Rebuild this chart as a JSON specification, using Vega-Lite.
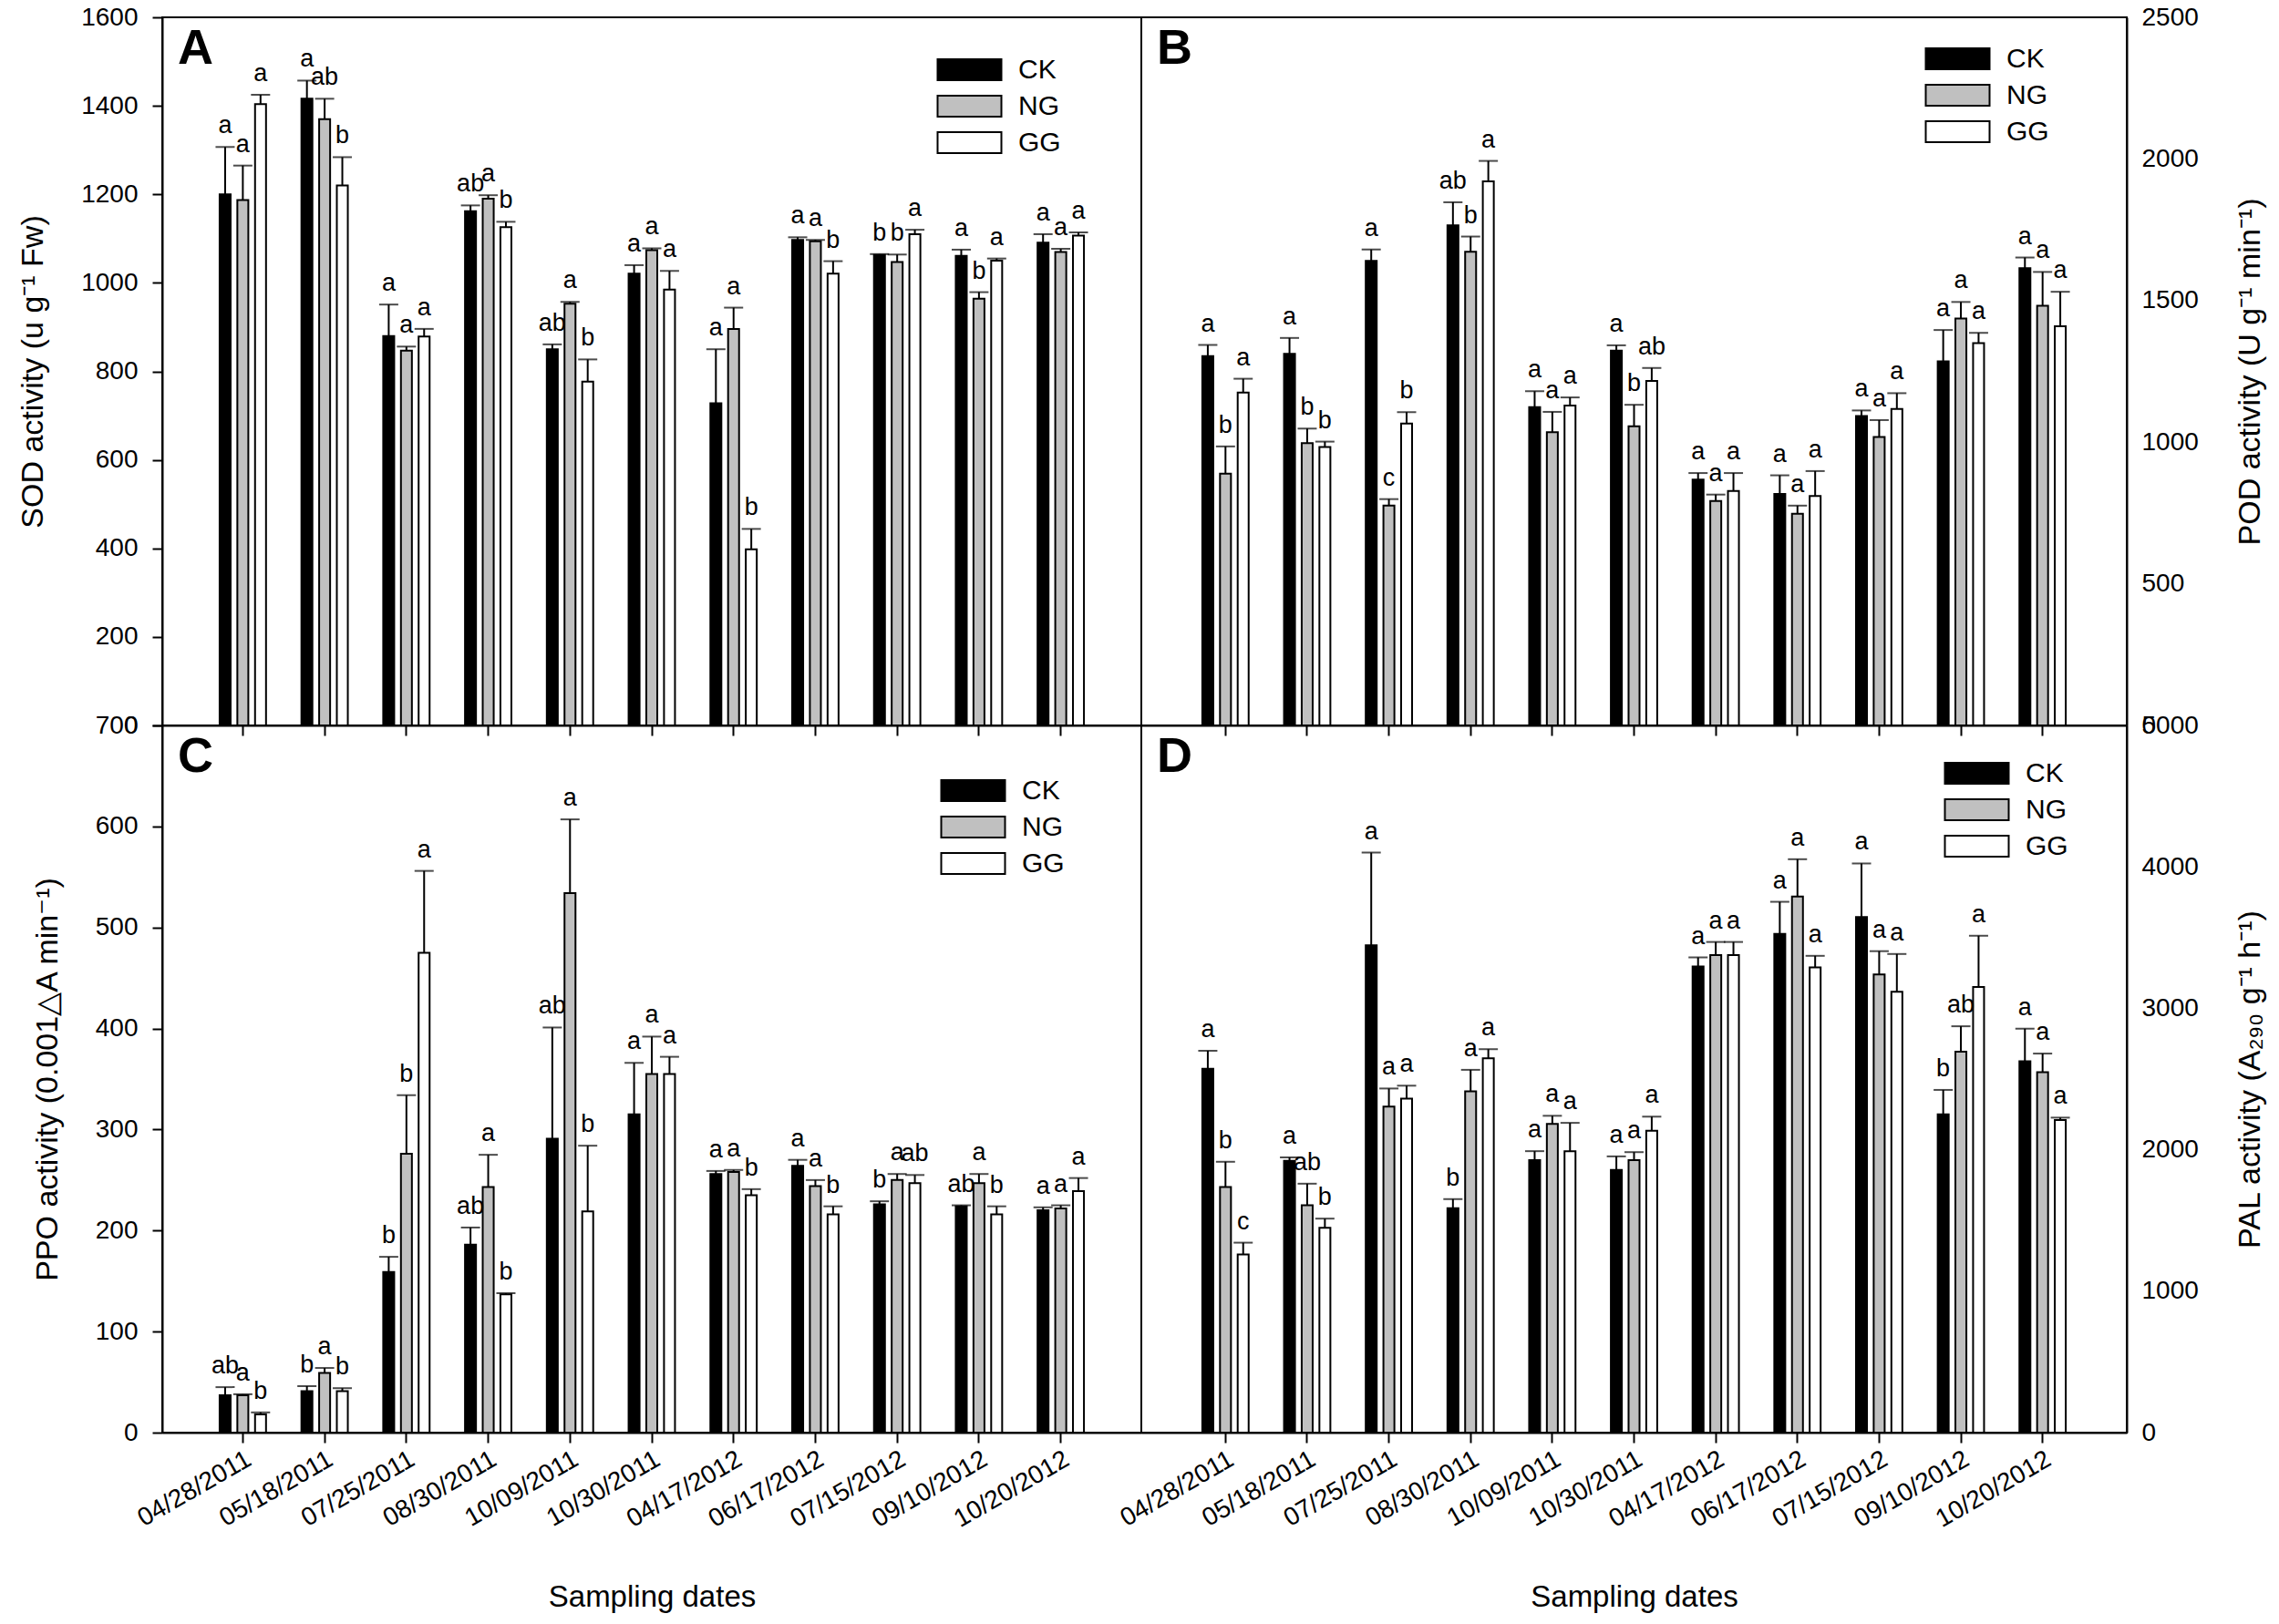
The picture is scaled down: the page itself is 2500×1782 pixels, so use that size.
{
"$schema": "https://vega.github.io/schema/vega-lite/v6.json",
"background": "white",
"padding": {"left": 18, "top": 4, "right": 5, "bottom": 5},
"config": {
  "font": "Liberation Sans",
  "view": {"stroke": "black", "strokeWidth": 2},
  "axis": {"domainColor": "black", "domainWidth": 2, "tickColor": "black", "tickWidth": 2, "tickSize": 11, "labelFontSize": 28, "labelColor": "black", "titleFontSize": 34, "titleFontWeight": "normal", "titleColor": "black", "grid": false, "labelPadding": 4},
  "axisY": {"format": "d", "labelPadding": 16},
  "legend": {"orient": "none", "title": null, "symbolType": "M-2,-0.66H2V0.66H-2Z", "symbolSize": 1225, "symbolStrokeColor": "black", "symbolStrokeWidth": 2, "labelFontSize": 30, "labelOffset": 35, "rowPadding": 5, "labelColor": "black"},
  "title": {"anchor": "start", "frame": "group", "fontSize": 54, "fontWeight": "bold", "color": "black", "offset": -76, "dx": 17}
},
"data": {"values": [
{"p":"A","d":"04/28/2011","g":"CK","v":1200,"e":1307,"l":"a"},{"p":"A","d":"04/28/2011","g":"NG","v":1187,"e":1265,"l":"a"},{"p":"A","d":"04/28/2011","g":"GG","v":1404,"e":1425,"l":"a"},
{"p":"A","d":"05/18/2011","g":"CK","v":1416,"e":1457,"l":"a"},{"p":"A","d":"05/18/2011","g":"NG","v":1370,"e":1416,"l":"ab"},{"p":"A","d":"05/18/2011","g":"GG","v":1220,"e":1284,"l":"b"},
{"p":"A","d":"07/25/2011","g":"CK","v":880,"e":951,"l":"a"},{"p":"A","d":"07/25/2011","g":"NG","v":847,"e":856,"l":"a"},{"p":"A","d":"07/25/2011","g":"GG","v":879,"e":896,"l":"a"},
{"p":"A","d":"08/30/2011","g":"CK","v":1162,"e":1175,"l":"ab"},{"p":"A","d":"08/30/2011","g":"NG","v":1190,"e":1198,"l":"a"},{"p":"A","d":"08/30/2011","g":"GG","v":1126,"e":1138,"l":"b"},
{"p":"A","d":"10/09/2011","g":"CK","v":850,"e":861,"l":"ab"},{"p":"A","d":"10/09/2011","g":"NG","v":953,"e":957,"l":"a"},{"p":"A","d":"10/09/2011","g":"GG","v":777,"e":827,"l":"b"},
{"p":"A","d":"10/30/2011","g":"CK","v":1021,"e":1040,"l":"a"},{"p":"A","d":"10/30/2011","g":"NG","v":1074,"e":1078,"l":"a"},{"p":"A","d":"10/30/2011","g":"GG","v":985,"e":1027,"l":"a"},
{"p":"A","d":"04/17/2012","g":"CK","v":728,"e":850,"l":"a"},{"p":"A","d":"04/17/2012","g":"NG","v":896,"e":944,"l":"a"},{"p":"A","d":"04/17/2012","g":"GG","v":398,"e":444,"l":"b"},
{"p":"A","d":"06/17/2012","g":"CK","v":1097,"e":1103,"l":"a"},{"p":"A","d":"06/17/2012","g":"NG","v":1094,"e":1097,"l":"a"},{"p":"A","d":"06/17/2012","g":"GG","v":1021,"e":1049,"l":"b"},
{"p":"A","d":"07/15/2012","g":"CK","v":1063,"e":1065,"l":"b"},{"p":"A","d":"07/15/2012","g":"NG","v":1047,"e":1064,"l":"b"},{"p":"A","d":"07/15/2012","g":"GG","v":1110,"e":1120,"l":"a"},
{"p":"A","d":"09/10/2012","g":"CK","v":1061,"e":1075,"l":"a"},{"p":"A","d":"09/10/2012","g":"NG","v":964,"e":979,"l":"b"},{"p":"A","d":"09/10/2012","g":"GG","v":1050,"e":1055,"l":"a"},
{"p":"A","d":"10/20/2012","g":"CK","v":1091,"e":1110,"l":"a"},{"p":"A","d":"10/20/2012","g":"NG","v":1070,"e":1077,"l":"a"},{"p":"A","d":"10/20/2012","g":"GG","v":1107,"e":1114,"l":"a"},
{"p":"B","d":"04/28/2011","g":"CK","v":1304,"e":1343,"l":"a"},{"p":"B","d":"04/28/2011","g":"NG","v":889,"e":985,"l":"b"},{"p":"B","d":"04/28/2011","g":"GG","v":1175,"e":1224,"l":"a"},
{"p":"B","d":"05/18/2011","g":"CK","v":1312,"e":1368,"l":"a"},{"p":"B","d":"05/18/2011","g":"NG","v":997,"e":1048,"l":"b"},{"p":"B","d":"05/18/2011","g":"GG","v":983,"e":1002,"l":"b"},
{"p":"B","d":"07/25/2011","g":"CK","v":1640,"e":1680,"l":"a"},{"p":"B","d":"07/25/2011","g":"NG","v":776,"e":799,"l":"c"},{"p":"B","d":"07/25/2011","g":"GG","v":1066,"e":1106,"l":"b"},
{"p":"B","d":"08/30/2011","g":"CK","v":1766,"e":1847,"l":"ab"},{"p":"B","d":"08/30/2011","g":"NG","v":1672,"e":1726,"l":"b"},{"p":"B","d":"08/30/2011","g":"GG","v":1921,"e":1993,"l":"a"},
{"p":"B","d":"10/09/2011","g":"CK","v":1124,"e":1180,"l":"a"},{"p":"B","d":"10/09/2011","g":"NG","v":1035,"e":1107,"l":"a"},{"p":"B","d":"10/09/2011","g":"GG","v":1129,"e":1158,"l":"a"},
{"p":"B","d":"10/30/2011","g":"CK","v":1323,"e":1342,"l":"a"},{"p":"B","d":"10/30/2011","g":"NG","v":1056,"e":1132,"l":"b"},{"p":"B","d":"10/30/2011","g":"GG","v":1216,"e":1262,"l":"ab"},
{"p":"B","d":"04/17/2012","g":"CK","v":868,"e":891,"l":"a"},{"p":"B","d":"04/17/2012","g":"NG","v":792,"e":815,"l":"a"},{"p":"B","d":"04/17/2012","g":"GG","v":828,"e":891,"l":"a"},
{"p":"B","d":"06/17/2012","g":"CK","v":817,"e":883,"l":"a"},{"p":"B","d":"06/17/2012","g":"NG","v":747,"e":776,"l":"a"},{"p":"B","d":"06/17/2012","g":"GG","v":810,"e":898,"l":"a"},
{"p":"B","d":"07/15/2012","g":"CK","v":1092,"e":1112,"l":"a"},{"p":"B","d":"07/15/2012","g":"NG","v":1018,"e":1078,"l":"a"},{"p":"B","d":"07/15/2012","g":"GG","v":1117,"e":1173,"l":"a"},
{"p":"B","d":"09/10/2012","g":"CK","v":1285,"e":1396,"l":"a"},{"p":"B","d":"09/10/2012","g":"NG","v":1437,"e":1495,"l":"a"},{"p":"B","d":"09/10/2012","g":"GG","v":1350,"e":1386,"l":"a"},
{"p":"B","d":"10/20/2012","g":"CK","v":1614,"e":1652,"l":"a"},{"p":"B","d":"10/20/2012","g":"NG","v":1482,"e":1601,"l":"a"},{"p":"B","d":"10/20/2012","g":"GG","v":1409,"e":1531,"l":"a"},
{"p":"C","d":"04/28/2011","g":"CK","v":37,"e":45,"l":"ab"},{"p":"C","d":"04/28/2011","g":"NG","v":37,"e":38,"l":"a"},{"p":"C","d":"04/28/2011","g":"GG","v":18,"e":20,"l":"b"},
{"p":"C","d":"05/18/2011","g":"CK","v":41,"e":46,"l":"b"},{"p":"C","d":"05/18/2011","g":"NG","v":59,"e":64,"l":"a"},{"p":"C","d":"05/18/2011","g":"GG","v":41,"e":44,"l":"b"},
{"p":"C","d":"07/25/2011","g":"CK","v":159,"e":174,"l":"b"},{"p":"C","d":"07/25/2011","g":"NG","v":276,"e":334,"l":"b"},{"p":"C","d":"07/25/2011","g":"GG","v":475,"e":556,"l":"a"},
{"p":"C","d":"08/30/2011","g":"CK","v":186,"e":203,"l":"ab"},{"p":"C","d":"08/30/2011","g":"NG","v":243,"e":275,"l":"a"},{"p":"C","d":"08/30/2011","g":"GG","v":137,"e":138,"l":"b"},
{"p":"C","d":"10/09/2011","g":"CK","v":291,"e":401,"l":"ab"},{"p":"C","d":"10/09/2011","g":"NG","v":534,"e":607,"l":"a"},{"p":"C","d":"10/09/2011","g":"GG","v":219,"e":284,"l":"b"},
{"p":"C","d":"10/30/2011","g":"CK","v":315,"e":366,"l":"a"},{"p":"C","d":"10/30/2011","g":"NG","v":355,"e":392,"l":"a"},{"p":"C","d":"10/30/2011","g":"GG","v":355,"e":372,"l":"a"},
{"p":"C","d":"04/17/2012","g":"CK","v":256,"e":259,"l":"a"},{"p":"C","d":"04/17/2012","g":"NG","v":258,"e":260,"l":"a"},{"p":"C","d":"04/17/2012","g":"GG","v":235,"e":241,"l":"b"},
{"p":"C","d":"06/17/2012","g":"CK","v":264,"e":270,"l":"a"},{"p":"C","d":"06/17/2012","g":"NG","v":244,"e":250,"l":"a"},{"p":"C","d":"06/17/2012","g":"GG","v":216,"e":224,"l":"b"},
{"p":"C","d":"07/15/2012","g":"CK","v":226,"e":229,"l":"b"},{"p":"C","d":"07/15/2012","g":"NG","v":250,"e":256,"l":"a"},{"p":"C","d":"07/15/2012","g":"GG","v":247,"e":255,"l":"ab"},
{"p":"C","d":"09/10/2012","g":"CK","v":224,"e":225,"l":"ab"},{"p":"C","d":"09/10/2012","g":"NG","v":247,"e":256,"l":"a"},{"p":"C","d":"09/10/2012","g":"GG","v":216,"e":224,"l":"b"},
{"p":"C","d":"10/20/2012","g":"CK","v":220,"e":223,"l":"a"},{"p":"C","d":"10/20/2012","g":"NG","v":222,"e":225,"l":"a"},{"p":"C","d":"10/20/2012","g":"GG","v":239,"e":252,"l":"a"},
{"p":"D","d":"04/28/2011","g":"CK","v":2572,"e":2700,"l":"a"},{"p":"D","d":"04/28/2011","g":"NG","v":1736,"e":1915,"l":"b"},{"p":"D","d":"04/28/2011","g":"GG","v":1259,"e":1343,"l":"c"},
{"p":"D","d":"05/18/2011","g":"CK","v":1922,"e":1946,"l":"a"},{"p":"D","d":"05/18/2011","g":"NG","v":1607,"e":1760,"l":"ab"},{"p":"D","d":"05/18/2011","g":"GG","v":1448,"e":1513,"l":"b"},
{"p":"D","d":"07/25/2011","g":"CK","v":3445,"e":4101,"l":"a"},{"p":"D","d":"07/25/2011","g":"NG","v":2305,"e":2433,"l":"a"},{"p":"D","d":"07/25/2011","g":"GG","v":2362,"e":2453,"l":"a"},
{"p":"D","d":"08/30/2011","g":"CK","v":1587,"e":1651,"l":"b"},{"p":"D","d":"08/30/2011","g":"NG","v":2413,"e":2565,"l":"a"},{"p":"D","d":"08/30/2011","g":"GG","v":2646,"e":2711,"l":"a"},
{"p":"D","d":"10/09/2011","g":"CK","v":1926,"e":1990,"l":"a"},{"p":"D","d":"10/09/2011","g":"NG","v":2183,"e":2240,"l":"a"},{"p":"D","d":"10/09/2011","g":"GG","v":1990,"e":2190,"l":"a"},
{"p":"D","d":"10/30/2011","g":"CK","v":1858,"e":1953,"l":"a"},{"p":"D","d":"10/30/2011","g":"NG","v":1926,"e":1983,"l":"a"},{"p":"D","d":"10/30/2011","g":"GG","v":2135,"e":2234,"l":"a"},
{"p":"D","d":"04/17/2012","g":"CK","v":3296,"e":3360,"l":"a"},{"p":"D","d":"04/17/2012","g":"NG","v":3377,"e":3469,"l":"a"},{"p":"D","d":"04/17/2012","g":"GG","v":3377,"e":3469,"l":"a"},
{"p":"D","d":"06/17/2012","g":"CK","v":3526,"e":3753,"l":"a"},{"p":"D","d":"06/17/2012","g":"NG","v":3790,"e":4054,"l":"a"},{"p":"D","d":"06/17/2012","g":"GG","v":3289,"e":3371,"l":"a"},
{"p":"D","d":"07/15/2012","g":"CK","v":3645,"e":4024,"l":"a"},{"p":"D","d":"07/15/2012","g":"NG","v":3239,"e":3404,"l":"a"},{"p":"D","d":"07/15/2012","g":"GG","v":3117,"e":3384,"l":"a"},
{"p":"D","d":"09/10/2012","g":"CK","v":2250,"e":2423,"l":"b"},{"p":"D","d":"09/10/2012","g":"NG","v":2694,"e":2873,"l":"ab"},{"p":"D","d":"09/10/2012","g":"GG","v":3151,"e":3513,"l":"a"},
{"p":"D","d":"10/20/2012","g":"CK","v":2626,"e":2856,"l":"a"},{"p":"D","d":"10/20/2012","g":"NG","v":2548,"e":2680,"l":"a"},{"p":"D","d":"10/20/2012","g":"GG","v":2210,"e":2227,"l":"a"}
]},
"bounds": "flush",
"spacing": 0,
"columns": 2,
"resolve": {"scale": {"fill": "independent", "x": "independent", "y": "independent", "xOffset": "independent"}, "legend": {"fill": "independent"}},
"concat": [
 {"width": 1074, "height": 777, "title": {"text": "A"},
  "transform": [{"filter": "datum.p === 'A'"}],
  "encoding": {
   "x": {"field": "d", "type": "nominal", "scale": {"domain": ["04/28/2011","05/18/2011","07/25/2011","08/30/2011","10/09/2011","10/30/2011","04/17/2012","06/17/2012","07/15/2012","09/10/2012","10/20/2012"], "paddingInner": 0, "paddingOuter": 0.485}, "axis": {"title": null, "labels": false, "ticks": true}},
   "xOffset": {"field": "g", "type": "nominal", "scale": {"domain": ["CK","NG","GG"], "paddingInner": 0.38, "paddingOuter": 1.115}}
  },
  "layer": [
   {"mark": {"type": "bar", "stroke": "black", "strokeWidth": 2},
    "encoding": {"y": {"field": "v", "type": "quantitative", "scale": {"domain": [0, 1600], "nice": false}, "axis": {"title": "SOD activity (u g⁻¹ Fw)", "values": [0,200,400,600,800,1000,1200,1400,1600], "titlePadding": 35}},
     "fill": {"field": "g", "type": "nominal", "scale": {"domain": ["CK","NG","GG"], "range": ["#000000","#c0c0c0","#ffffff"]}, "legend": {"legendX": 867, "legendY": 39}}}},
   {"mark": {"type": "rule", "color": "black", "strokeWidth": 2}, "encoding": {"y": {"field": "v", "type": "quantitative"}, "y2": {"field": "e"}}},
   {"mark": {"type": "tick", "color": "black", "thickness": 2, "size": 21}, "encoding": {"y": {"field": "e", "type": "quantitative"}}},
   {"mark": {"type": "text", "baseline": "bottom", "dy": -9, "fontSize": 27, "color": "black"}, "encoding": {"y": {"field": "e", "type": "quantitative"}, "text": {"field": "l"}}}
  ]},
 {"width": 1081, "height": 777, "title": {"text": "B"},
  "transform": [{"filter": "datum.p === 'B'"}],
  "encoding": {
   "x": {"field": "d", "type": "nominal", "scale": {"domain": ["04/28/2011","05/18/2011","07/25/2011","08/30/2011","10/09/2011","10/30/2011","04/17/2012","06/17/2012","07/15/2012","09/10/2012","10/20/2012"], "paddingInner": 0, "paddingOuter": 0.53}, "axis": {"title": null, "labels": false, "ticks": true}},
   "xOffset": {"field": "g", "type": "nominal", "scale": {"domain": ["CK","NG","GG"], "paddingInner": 0.38, "paddingOuter": 1.115}}
  },
  "layer": [
   {"mark": {"type": "bar", "stroke": "black", "strokeWidth": 2},
    "encoding": {"y": {"field": "v", "type": "quantitative", "scale": {"domain": [0, 2500], "nice": false}, "axis": {"orient": "right", "ticks": false, "title": "POD activity (U g⁻¹ min⁻¹)", "values": [0,500,1000,1500,2000,2500], "titleAngle": 270, "titleBaseline": "top", "titlePadding": 40}},
     "fill": {"field": "g", "type": "nominal", "scale": {"domain": ["CK","NG","GG"], "range": ["#000000","#c0c0c0","#ffffff"]}, "legend": {"legendX": 877, "legendY": 27}}}},
   {"mark": {"type": "rule", "color": "black", "strokeWidth": 2}, "encoding": {"y": {"field": "v", "type": "quantitative"}, "y2": {"field": "e"}}},
   {"mark": {"type": "tick", "color": "black", "thickness": 2, "size": 21}, "encoding": {"y": {"field": "e", "type": "quantitative"}}},
   {"mark": {"type": "text", "baseline": "bottom", "dy": -9, "fontSize": 27, "color": "black"}, "encoding": {"y": {"field": "e", "type": "quantitative"}, "text": {"field": "l"}}}
  ]},
 {"width": 1074, "height": 776, "title": {"text": "C"},
  "transform": [{"filter": "datum.p === 'C'"}],
  "encoding": {
   "x": {"field": "d", "type": "nominal", "scale": {"domain": ["04/28/2011","05/18/2011","07/25/2011","08/30/2011","10/09/2011","10/30/2011","04/17/2012","06/17/2012","07/15/2012","09/10/2012","10/20/2012"], "paddingInner": 0, "paddingOuter": 0.485}, "axis": {"title": "Sampling dates", "labelAngle": -30, "labelFontSize": 28, "titleFontSize": 33, "titlePadding": 55}},
   "xOffset": {"field": "g", "type": "nominal", "scale": {"domain": ["CK","NG","GG"], "paddingInner": 0.38, "paddingOuter": 1.115}}
  },
  "layer": [
   {"mark": {"type": "bar", "stroke": "black", "strokeWidth": 2},
    "encoding": {"y": {"field": "v", "type": "quantitative", "scale": {"domain": [0, 700], "nice": false}, "axis": {"title": "PPO activity (0.001△A min⁻¹)", "values": [0,100,200,300,400,500,600,700], "titlePadding": 35}},
     "fill": {"field": "g", "type": "nominal", "scale": {"domain": ["CK","NG","GG"], "range": ["#000000","#c0c0c0","#ffffff"]}, "legend": {"legendX": 871, "legendY": 53}}}},
   {"mark": {"type": "rule", "color": "black", "strokeWidth": 2}, "encoding": {"y": {"field": "v", "type": "quantitative"}, "y2": {"field": "e"}}},
   {"mark": {"type": "tick", "color": "black", "thickness": 2, "size": 21}, "encoding": {"y": {"field": "e", "type": "quantitative"}}},
   {"mark": {"type": "text", "baseline": "bottom", "dy": -9, "fontSize": 27, "color": "black"}, "encoding": {"y": {"field": "e", "type": "quantitative"}, "text": {"field": "l"}}}
  ]},
 {"width": 1081, "height": 776, "title": {"text": "D"},
  "transform": [{"filter": "datum.p === 'D'"}],
  "encoding": {
   "x": {"field": "d", "type": "nominal", "scale": {"domain": ["04/28/2011","05/18/2011","07/25/2011","08/30/2011","10/09/2011","10/30/2011","04/17/2012","06/17/2012","07/15/2012","09/10/2012","10/20/2012"], "paddingInner": 0, "paddingOuter": 0.53}, "axis": {"title": "Sampling dates", "labelAngle": -30, "labelFontSize": 28, "titleFontSize": 33, "titlePadding": 55}},
   "xOffset": {"field": "g", "type": "nominal", "scale": {"domain": ["CK","NG","GG"], "paddingInner": 0.38, "paddingOuter": 1.115}}
  },
  "layer": [
   {"mark": {"type": "bar", "stroke": "black", "strokeWidth": 2},
    "encoding": {"y": {"field": "v", "type": "quantitative", "scale": {"domain": [0, 5000], "nice": false}, "axis": {"orient": "right", "ticks": false, "title": "PAL activity (A₂₉₀ g⁻¹ h⁻¹)", "values": [0,1000,2000,3000,4000,5000], "titleAngle": 270, "titleBaseline": "top", "titlePadding": 40}},
     "fill": {"field": "g", "type": "nominal", "scale": {"domain": ["CK","NG","GG"], "range": ["#000000","#c0c0c0","#ffffff"]}, "legend": {"legendX": 898, "legendY": 34}}}},
   {"mark": {"type": "rule", "color": "black", "strokeWidth": 2}, "encoding": {"y": {"field": "v", "type": "quantitative"}, "y2": {"field": "e"}}},
   {"mark": {"type": "tick", "color": "black", "thickness": 2, "size": 21}, "encoding": {"y": {"field": "e", "type": "quantitative"}}},
   {"mark": {"type": "text", "baseline": "bottom", "dy": -9, "fontSize": 27, "color": "black"}, "encoding": {"y": {"field": "e", "type": "quantitative"}, "text": {"field": "l"}}}
  ]}
]
}
